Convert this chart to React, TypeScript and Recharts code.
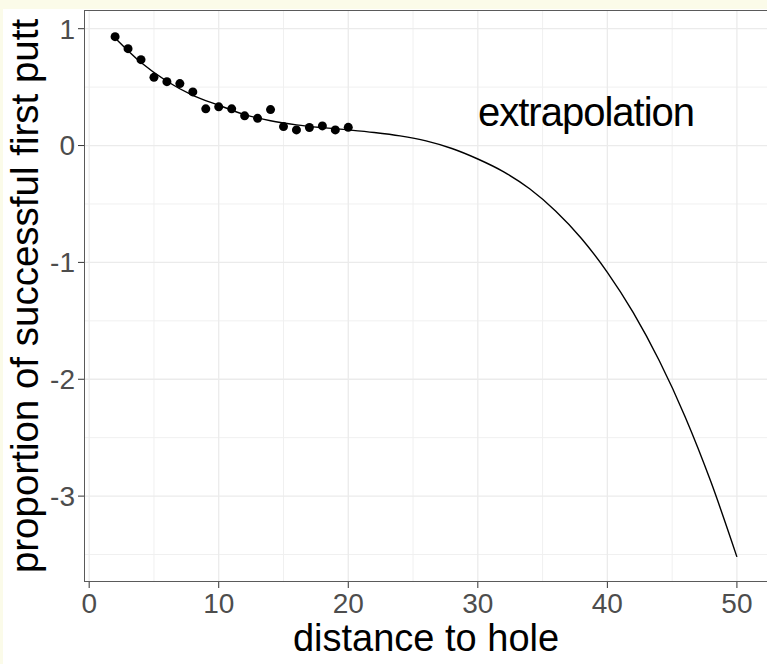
import React from "react";
import {
  ComposedChart, Line, Scatter, XAxis, YAxis, CartesianGrid,
} from "recharts";

// observed putts (distance in feet -> proportion made)
const puttDistance = [2, 3, 4, 5, 6, 7, 8, 9, 10, 11, 12, 13, 14, 15, 16, 17, 18, 19, 20];
const puttProportion = [
  0.932, 0.829, 0.735, 0.584, 0.547, 0.53, 0.459, 0.314, 0.331, 0.314,
  0.254, 0.233, 0.308, 0.162, 0.134, 0.154, 0.168, 0.134, 0.156,
];

// fitted curve
const fitDistance = [2, 4, 6, 8, 10, 12, 14, 16, 18, 20, 22, 24, 26, 28, 30, 32, 34, 36, 38, 40, 42, 44, 46, 48, 50];
const fitValue = [
  0.92, 0.71, 0.55, 0.43, 0.345, 0.265, 0.212, 0.177, 0.153, 0.134, 0.112, 0.083, 0.04,
  -0.025, -0.115, -0.225, -0.37, -0.56, -0.795, -1.085, -1.43, -1.84, -2.32, -2.88, -3.52,
];

const xTicks = [0, 10, 20, 30, 40, 50];
const xMinor = [5, 15, 25, 35, 45];
const yTicks = [-3, -2, -1, 0, 1];
const yMinor = [-3.5, -2.5, -1.5, -0.5, 0.5];

const points = puttDistance.map((x, i) => ({ x, y: puttProportion[i] }));
const curve = fitDistance.map((x, i) => ({ x, y: fitValue[i] }));

const FONT = '"Liberation Sans", Arial, sans-serif';
const cream = "#fbfbe9";

export default function App() {
  return (
    <div style={{ position: "fixed", left: 0, top: 0, width: 767, height: 664, overflow: "hidden", background: "#fff", fontFamily: FONT }}>
      <ComposedChart width={770} height={664} margin={{ top: 10, right: 2, left: 0, bottom: 0 }}>
        <CartesianGrid horizontalValues={yMinor} verticalValues={xMinor} stroke="#f0f0f0" strokeWidth={1} />
        <CartesianGrid horizontalValues={yTicks} verticalValues={xTicks} stroke="#ebebeb" strokeWidth={1.3} />
        <XAxis
          type="number"
          dataKey="x"
          domain={[-0.4, 52.4]}
          ticks={xTicks}
          allowDataOverflow
          axisLine={false}
          tickSize={6}
          tickMargin={5}
          height={82}
          tickLine={{ stroke: "#333" }}
          tick={{ fill: "#4d4d4d", fontSize: 28, fontFamily: FONT }}
          label={{
            content: ({ viewBox }: any) => (
              <text x={viewBox.x + viewBox.width / 2} y={viewBox.y + 69} textAnchor="middle" fontSize={38} fontFamily={FONT} fill="#000">
                distance to hole
              </text>
            ),
          }}
        />
        <YAxis
          type="number"
          dataKey="y"
          domain={[-3.735, 1.16]}
          ticks={yTicks}
          allowDataOverflow
          axisLine={false}
          width={84}
          tickSize={6}
          tickMargin={3}
          tickLine={{ stroke: "#333" }}
          tick={{ fill: "#4d4d4d", fontSize: 28, fontFamily: FONT }}
          label={{
            content: ({ viewBox }: any) => {
              const cx = 24;
              const cy = viewBox.y + viewBox.height / 2;
              return (
                <text x={cx} y={cy} transform={`rotate(-90 ${cx} ${cy})`} textAnchor="middle" dominantBaseline="central" fontSize={38.5} fontFamily={FONT} fill="#000">
                  proportion of successful first putt
                </text>
              );
            },
          }}
        />
        <Line data={curve} dataKey="y" type="monotone" stroke="#000" strokeWidth={1.4} dot={false} isAnimationActive={false} />
        <Scatter data={points} dataKey="y" fill="#000" shape={(p: any) => <circle cx={p.cx} cy={p.cy} r={4.5} fill="#000" />} isAnimationActive={false} />
      </ComposedChart>
      {/* panel border */}
      <div style={{ position: "absolute", left: 84, top: 10, width: 700, height: 572, border: "1px solid #5a5a5a", boxSizing: "border-box", pointerEvents: "none" }} />
      {/* handwritten note */}
      <div style={{ position: "absolute", left: 478, top: 88, fontSize: 40, fontFamily: FONT, color: "#000", lineHeight: "48px", letterSpacing: -1 }}>
        extrapolation
      </div>
      {/* cream slide edges */}
      <div style={{ position: "absolute", left: 0, top: 0, width: 767, height: 9, background: cream }} />
      <div style={{ position: "absolute", left: 0, top: 0, width: 3, height: 664, background: cream }} />
    </div>
  );
}
